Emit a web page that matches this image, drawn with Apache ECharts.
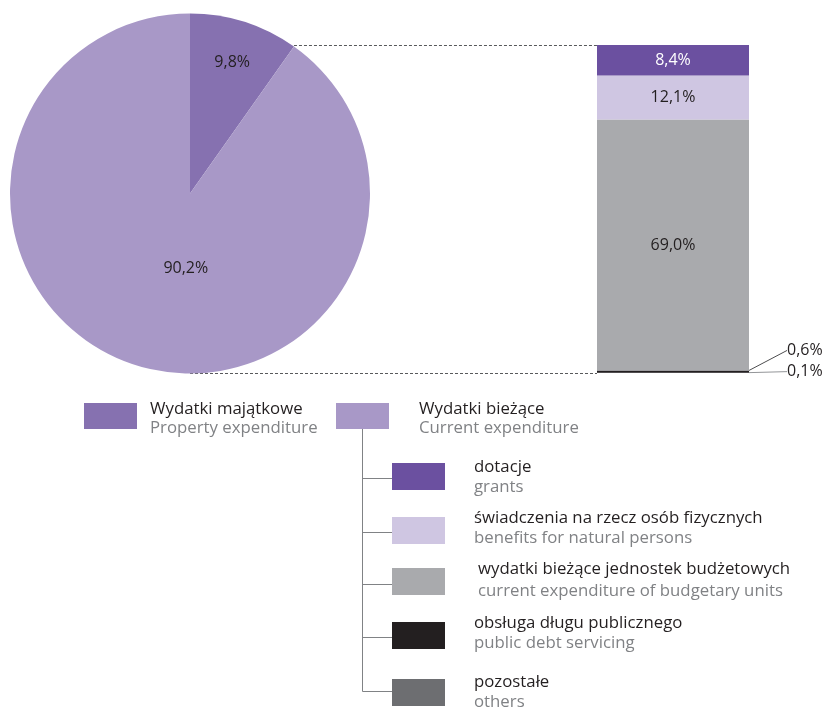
<!DOCTYPE html>
<html><head><meta charset="utf-8">
<script src="https://cdn.jsdelivr.net/npm/echarts@6/dist/echarts.min.js"></script>
<style>html,body{margin:0;padding:0;background:#fff}#c{width:827px;height:710px}</style>
</head><body><div id="c"></div>
<script>
const pieCategories = ['Wydatki majątkowe', 'Wydatki bieżące'];
const pieCategoriesEn = ['Property expenditure', 'Current expenditure'];
const pieValues = [9.8, 90.2];
const barCategories = ['dotacje', 'świadczenia na rzecz osób fizycznych', 'wydatki bieżące jednostek budżetowych', 'obsługa długu publicznego', 'pozostałe'];
const barCategoriesEn = ['grants', 'benefits for natural persons', 'current expenditure of budgetary units', 'public debt servicing', 'others'];
const barValues = [8.4, 12.1, 69.0, 0.6, 0.1];

const FONT = 'Open Sans';
const DARK = '#231f20';
const GREY_TXT = '#808285';
const pieColors = ['#8671b0', '#a898c7'];
const barColors = ['#6b50a0', '#cfc6e2', '#a9aaad', '#231f20', '#6d6e71'];
const fmt = v => v.toFixed(1).replace('.', ',') + '%';
const LFS = 16.8;

const PIE_C = [190, 193.5], PIE_R = 180;
const GRID = { left: 597, top: 45, width: 152, height: 328 };
const barTotal = barValues.reduce((a, b) => a + b, 0);

// bar series: bottom-most first
const barSeries = [];
for (let i = barValues.length - 1; i >= 0; i--) {
  const small = barValues[i] < 1;
  barSeries.push({
    type: 'bar', name: barCategories[i], stack: 'all', data: [barValues[i]],
    xAxisIndex: 0, yAxisIndex: 0, barWidth: '100%',
    itemStyle: { color: barColors[i] },
    label: {
      show: true, position: small ? 'right' : 'inside', formatter: p => fmt(p.value),
      color: i === 0 ? '#fff' : DARK, fontFamily: FONT, fontSize: 16
    },
    labelLine: small ? { show: true, lineStyle: { color: i === 3 ? '#4d4d4f' : '#939598', width: 1 } } : { show: false },
    labelLayout: small ? (function (idx) {
      return function (p) {
        const r = p.rect, xr = r.x + r.width;
        if (idx === 3) {
          const ly = r.y - 20;
          return { x: xr + 38, y: ly, align: 'left', verticalAlign: 'middle',
            labelLinePoints: [[xr, r.y + r.height / 2], [xr + 13, ly + 1.5], [xr + 31, ly + 1.5]] };
        }
        const ly = r.y - 1;
        return { x: xr + 38, y: ly, align: 'left', verticalAlign: 'middle',
          labelLinePoints: [[xr, ly], [xr + 15, ly], [xr + 31, ly]] };
      };
    })(i) : undefined,
    emphasis: { disabled: true }, silent: true, animation: false
  });
}

const pieLabelOffsets = [[14, -42], [24, -14]];

// connector dashed lines: pie slice edge and bar top/bottom (bar spans full value axis)
const ang = (90 - 360 * pieValues[0] / 100) * Math.PI / 180;
const pEdge = [PIE_C[0] + PIE_R * Math.cos(ang), PIE_C[1] - PIE_R * Math.sin(ang)];
const barTopY = GRID.top, barBotY = GRID.top + GRID.height;
const dash = { stroke: '#58595b', lineWidth: 1, lineDash: [3, 2] };
const g = [
  { type: 'line', shape: { x1: pEdge[0], y1: barTopY + 0.5, x2: GRID.left, y2: barTopY + 0.5 }, style: dash, z: 1 },
  { type: 'line', shape: { x1: PIE_C[0], y1: barBotY + 0.5, x2: GRID.left, y2: barBotY + 0.5 }, style: dash, z: 1 }
];

// Legend (top level)
const topSw = [[84, 403], [336, 403]];
const topTx = [150, 419];
const font = LFS + 'px "' + FONT + '"';
for (let i = 0; i < 2; i++) {
  g.push({ type: 'rect', shape: { x: topSw[i][0], y: topSw[i][1], width: 53, height: 26 }, style: { fill: pieColors[i] } });
  g.push({ type: 'text', x: topTx[i], y: 409, style: { text: pieCategories[i], fill: DARK, font: font, verticalAlign: 'middle' } });
  g.push({ type: 'text', x: topTx[i], y: 428, style: { text: pieCategoriesEn[i], fill: GREY_TXT, font: font, verticalAlign: 'middle' } });
}
// tree
const treeX = 362.5;
const subTop = [463, 517, 568, 622, 679];
const branchY = [478, 532, 584, 637, 691];
const subTxX = [474, 474, 478, 474, 474];
const l1 = [467, 518, 569, 623, 682];
const l2 = [487, 538, 591, 643, 702];
g.push({ type: 'line', shape: { x1: treeX, y1: 429, x2: treeX, y2: branchY[4] + 0.5 }, style: { stroke: '#808285', lineWidth: 1 } });
for (let i = 0; i < barCategories.length; i++) {
  g.push({ type: 'line', shape: { x1: treeX, y1: branchY[i] + 0.5, x2: 392, y2: branchY[i] + 0.5 }, style: { stroke: '#808285', lineWidth: 1 } });
  g.push({ type: 'rect', shape: { x: 392, y: subTop[i], width: 53, height: 27 }, style: { fill: barColors[i] } });
  g.push({ type: 'text', x: subTxX[i], y: l1[i], style: { text: barCategories[i], fill: DARK, font: font, verticalAlign: 'middle' } });
  g.push({ type: 'text', x: subTxX[i], y: l2[i], style: { text: barCategoriesEn[i], fill: GREY_TXT, font: font, verticalAlign: 'middle' } });
}

const option = {
  animation: false,
  grid: GRID,
  xAxis: { type: 'category', data: [''], show: false },
  yAxis: { type: 'value', min: 0, max: barTotal, show: false },
  graphic: { elements: g },
  series: [
    {
      type: 'pie', center: PIE_C, radius: PIE_R, startAngle: 90, clockwise: true,
      silent: true, animation: false,
      data: pieValues.map((v, i) => ({ value: v, name: pieCategories[i], itemStyle: { color: pieColors[i] } })),
      label: { show: true, position: 'inside', formatter: p => fmt(p.value), color: DARK, fontFamily: FONT, fontSize: 16 },
      labelLayout: p => ({ dx: pieLabelOffsets[p.dataIndex][0], dy: pieLabelOffsets[p.dataIndex][1] }),
      labelLine: { show: false }
    },
    ...barSeries
  ]
};

const chart = echarts.init(document.getElementById('c'), null, { renderer: 'canvas' });
chart.setOption(option);
</script>
</body></html>
